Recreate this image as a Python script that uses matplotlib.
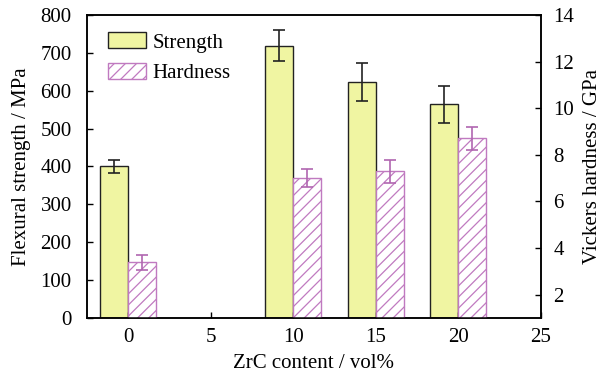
import matplotlib
matplotlib.use("Agg")
import matplotlib.pyplot as plt
import numpy as np

# ZrC content (vol%)
zrc = [0, 10, 15, 20]
strength = [400, 718, 624, 564]      # MPa
strength_err = [17, 41, 50, 48]
hardness = [3.40, 7.0, 7.29, 8.71]   # GPa
hardness_err = [0.32, 0.38, 0.5, 0.5]

plt.rcParams["font.family"] = ["Liberation Serif", "DejaVu Serif"]
plt.rcParams["font.size"] = 15
plt.rcParams["hatch.linewidth"] = 0.9

fig = plt.figure(figsize=(6.02, 3.72), dpi=100)
ax = fig.add_axes([0.1445, 0.145, 0.754, 0.815])
ax2 = ax.twinx()

w = 1.7
purple = "#c07ac0"
ax.bar(zrc, strength, width=-w, align="edge", color="#f0f5a2", edgecolor="#222222",
       linewidth=1.0, yerr=strength_err, error_kw=dict(ecolor="#222222", elinewidth=1.2,
       capsize=4, capthick=1.2), label="Strength")
x_h = np.array(zrc) + w / 2
ax2.bar(zrc, hardness, width=w, align="edge", bottom=0, color="white", edgecolor=purple,
        hatch="///", linewidth=1.0, label="Hardness")
ax2.errorbar(x_h, hardness, yerr=hardness_err, fmt="none", ecolor="#b066b0",
             elinewidth=1.2, capsize=4, capthick=1.2)

ax.set_xlim(-2.5, 25)
ax.set_ylim(0, 800)
ax2.set_ylim(1, 14)
ax.set_xticks([0, 5, 10, 15, 20, 25])
ax.set_yticks(range(0, 801, 100))
ax2.set_yticks(range(2, 15, 2))

ax.tick_params(axis="y", direction="in", length=4, width=1, pad=11)
ax.tick_params(axis="x", direction="in", length=4, width=1, top=False, pad=7)
ax2.tick_params(direction="in", length=4, width=1, pad=9)
for a in (ax, ax2):
    for s in a.spines.values():
        s.set_linewidth(1.1)

ax.set_xlabel("ZrC content / vol%", labelpad=5)
ax.set_ylabel("Flexural strength / MPa", labelpad=7)
ax2.set_ylabel("Vickers hardness / GPa", labelpad=6)

h1, l1 = ax.get_legend_handles_labels()
h2, l2 = ax2.get_legend_handles_labels()
ax2.legend(h1 + h2, l1 + l2, loc="upper left", frameon=False, handlelength=1.8,
           handleheight=0.8, handletextpad=0.3, labelspacing=0.5,
           bbox_to_anchor=(0.015, 0.99), borderaxespad=0.3)

fig.savefig("out.png", dpi=100)
